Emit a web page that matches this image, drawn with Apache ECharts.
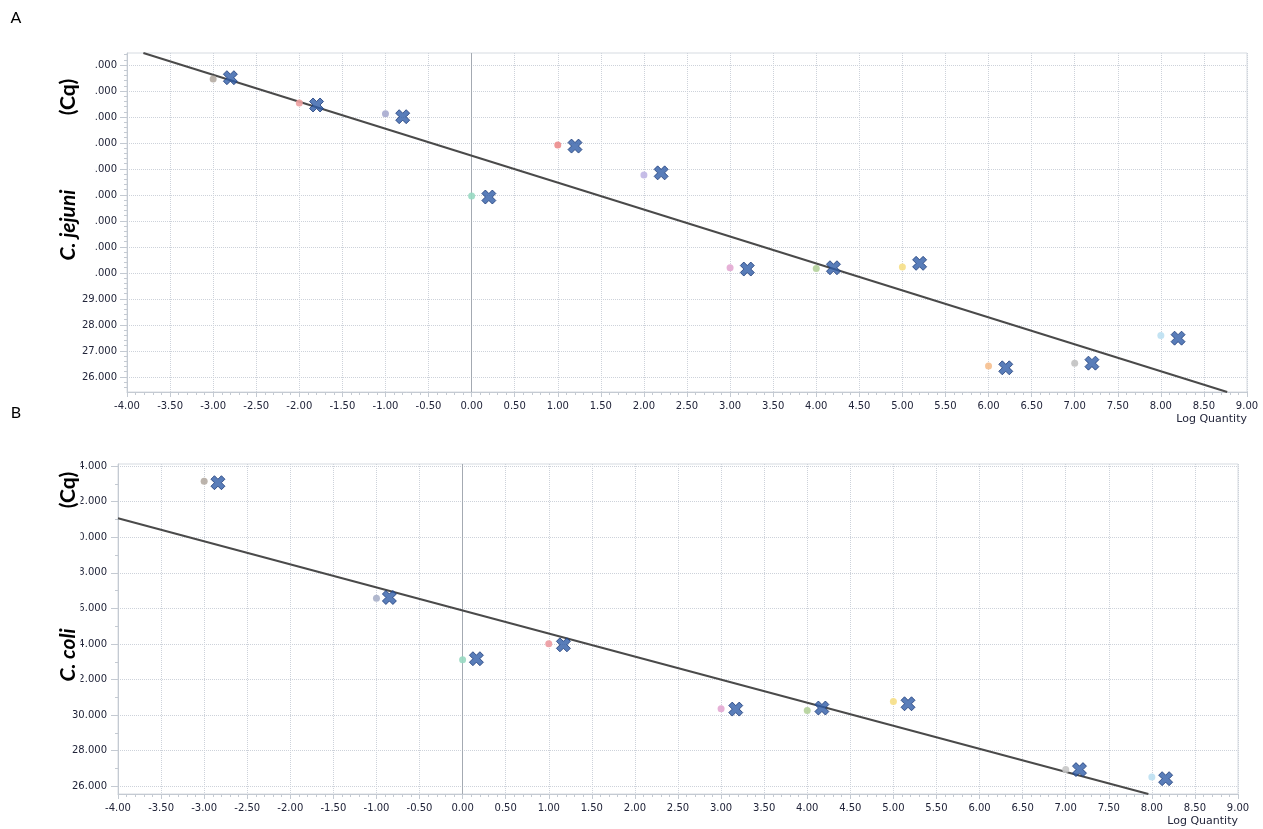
<!DOCTYPE html>
<html>
<head>
<meta charset="utf-8">
<script src="https://cdn.jsdelivr.net/npm/echarts@6/dist/echarts.min.js"></script>
<style>
html,body{margin:0;padding:0;background:#fff;}
#chart{width:1263px;height:829px;}
</style>
</head>
<body>
<div id="chart"></div>
<script>
// ---------- data ----------
const xTicks = [-4, -3.5, -3, -2.5, -2, -1.5, -1, -0.5, 0, 0.5, 1, 1.5, 2, 2.5, 3, 3.5, 4, 4.5, 5, 5.5, 6, 6.5, 7, 7.5, 8, 8.5, 9];
const yTicksA = [26, 27, 28, 29, 30, 31, 32, 33, 34, 35, 36, 37, 38];
const yTicksB = [26, 28, 30, 32, 34, 36, 38, 40, 42, 44];

// Panel A: C. jejuni
const logQtyA = [-3, -2, -1, 0, 1, 2, 3, 4, 5, 6, 7, 8];
const cqDotsA = [37.46, 36.54, 36.12, 32.96, 34.92, 33.77, 30.20, 30.17, 30.23, 26.42, 26.53, 27.59];
const markerQtyA = [-2.8, -1.8, -0.8, 0.2, 1.2, 2.2, 3.2, 4.2, 5.2, 6.2, 7.2, 8.2];
const cqMarkersA = [37.51, 36.46, 36.01, 32.92, 34.88, 33.85, 30.15, 30.20, 30.37, 26.35, 26.53, 27.49];
const fitQtyA = [-3.81, 8.77];
const fitCqA = [38.46, 25.42];

// Panel B: C. coli
const logQtyB = [-3, -1, 0, 1, 3, 4, 5, 7, 8];
const cqDotsB = [43.14, 36.57, 33.11, 34.01, 30.36, 30.26, 30.77, 26.94, 26.53];
const markerQtyB = [-2.84, -0.85, 0.16, 1.17, 3.17, 4.17, 5.17, 7.16, 8.16];
const cqMarkersB = [43.06, 36.61, 33.17, 33.95, 30.34, 30.40, 30.64, 26.94, 26.43];
const fitQtyB = [-4.0, 7.96];
const fitCqB = [41.06, 25.57];

// ---------- styles ----------
const dotColorsA = ['#b5aca3', '#eda0a0', '#a7abcf', '#98d9c2', '#ec8c8c', '#c0b6e4', '#e3a9d3', '#b4d29a', '#f6df86', '#f6bf8e', '#c2c2c2', '#bde0f2'];
const dotColorsB = ['#b5aca3', '#a9b0c9', '#98d9c2', '#ec9aa0', '#e3a9d3', '#b4d29a', '#f6df86', '#c8c8c8', '#bde0f2'];
const labelColor = '#22253a';
const gridDot = '#cdd2da';
const axisCol = '#c4cad2';
const xPath = 'path://M0,4 L4,0 L8,4 L12,0 L16,4 L12,8 L16,12 L12,16 L8,12 L4,16 L0,12 L4,8 Z';

function range(a, b, step) {
  const out = [];
  for (let v = a; v <= b + 1e-9; v += step) out.push(Math.round(v * 1000) / 1000);
  return out;
}
const xMinor = range(-4, 9, 0.1);
const yMinorA = range(25.6, 38.4, 0.2);
const yMinorB = range(27, 43, 2);

function zip(xs, ys) { return xs.map((x, i) => [x, ys[i]]); }

const grids = [
  { left: 127, top: 53, right: 16, height: 339 },
  { left: 118, top: 464, right: 25, height: 330 }
];
const yRanges = [[25.42, 38.46], [25.57, 44.11]];
const yTicks = [yTicksA, yTicksB];
const yMinors = [yMinorA, yMinorB];
const labelMargins = [10, 11];

const xAxes = [], yAxes = [];
grids.forEach((g, i) => {
  xAxes.push({
    type: 'value', gridIndex: i, min: -4, max: 9, position: 'bottom',
    name: 'Log Quantity', nameLocation: 'end', nameGap: 0,
    nameTextStyle: { fontFamily: 'DejaVu Sans', fontSize: 11, color: labelColor, align: 'right', verticalAlign: 'top', padding: [22, 0, 0, 0] },
    axisLine: { show: true, onZero: false, lineStyle: { color: axisCol } },
    axisTick: { show: true, customValues: xTicks, length: 5, lineStyle: { color: axisCol } },
    axisLabel: { customValues: xTicks, formatter: v => v.toFixed(2), fontFamily: 'DejaVu Sans', fontSize: 10, color: labelColor, margin: 9 },
    splitLine: { show: true, lineStyle: { color: gridDot, type: [1, 1], width: 1 } }
  });
  xAxes.push({
    type: 'value', gridIndex: i, min: -4, max: 9, position: 'bottom',
    axisLine: { show: false, onZero: false },
    axisTick: { show: true, customValues: xMinor, length: 3, lineStyle: { color: axisCol } },
    axisLabel: { show: false },
    splitLine: { show: false }
  });
  yAxes.push({
    type: 'value', gridIndex: i, min: yRanges[i][0], max: yRanges[i][1], position: 'left',
    axisLine: { show: true, onZero: false, lineStyle: { color: axisCol } },
    axisTick: { show: true, customValues: yTicks[i], length: 7, lineStyle: { color: axisCol } },
    axisLabel: { customValues: yTicks[i], formatter: v => v.toFixed(3), fontFamily: 'DejaVu Sans', fontSize: 10, color: labelColor, margin: labelMargins[i] },
    splitLine: { show: true, lineStyle: { color: gridDot, type: [1, 1], width: 1 } }
  });
  yAxes.push({
    type: 'value', gridIndex: i, min: yRanges[i][0], max: yRanges[i][1], position: 'left',
    axisLine: { show: false, onZero: false },
    axisTick: { show: true, customValues: yMinors[i], length: 3, lineStyle: { color: axisCol } },
    axisLabel: { show: false },
    splitLine: { show: false }
  });
});

function panelSeries(i, qty, dots, mQty, markers, fQty, fCq, colors) {
  const xi = i * 2, yi = i * 2;
  return [
    {
      type: 'line', xAxisIndex: xi, yAxisIndex: yi, data: zip(fQty, fCq),
      showSymbol: false, symbol: 'none', lineStyle: { color: '#4a4a4a', width: 2 }, z: 3,
      markLine: {
        silent: true, symbol: 'none', label: { show: false },
        lineStyle: { color: '#a4aab2', type: 'solid', width: 1 },
        data: [{ xAxis: 0 }], z: 1
      }
    },
    {
      type: 'scatter', xAxisIndex: xi, yAxisIndex: yi, data: zip(qty, dots),
      symbol: 'circle', symbolSize: 7, z: 4,
      itemStyle: { color: p => colors[p.dataIndex], opacity: 0.9 }
    },
    {
      type: 'scatter', xAxisIndex: xi, yAxisIndex: yi, data: zip(mQty, markers),
      symbol: xPath, symbolSize: 14, z: 5,
      itemStyle: { color: '#2f5ca8', borderColor: '#1d3b78', borderWidth: 1 }
    }
  ];
}

const titleFont = 'Lato, "Open Sans", sans-serif';
const option = {
  backgroundColor: '#ffffff',
  animation: false,
  grid: grids.map(g => Object.assign({ show: true, borderColor: '#d6dbe1', borderWidth: 1, backgroundColor: 'transparent' }, g)),
  xAxis: xAxes,
  yAxis: yAxes,
  series: [].concat(
    panelSeries(0, logQtyA, cqDotsA, markerQtyA, cqMarkersA, fitQtyA, fitCqA, dotColorsA),
    panelSeries(1, logQtyB, cqDotsB, markerQtyB, cqMarkersB, fitQtyB, fitCqB, dotColorsB)
  ),
  graphic: [
    { type: 'rect', shape: { x: 0, y: 40, width: 94, height: 247 }, style: { fill: '#ffffff' }, z: 100 },
    { type: 'rect', shape: { x: 0, y: 448, width: 80.5, height: 250 }, style: { fill: '#ffffff' }, z: 100 },
    { type: 'text', x: 16, y: 18, z: 101, style: { text: 'A', fontFamily: titleFont, fontSize: 16, fill: '#000', textAlign: 'center', textVerticalAlign: 'middle' } },
    { type: 'text', x: 16, y: 413, z: 101, style: { text: 'B', fontFamily: titleFont, fontSize: 16, fill: '#000', textAlign: 'center', textVerticalAlign: 'middle' } },
    { type: 'text', x: 68, y: 97, rotation: Math.PI / 2, z: 101, style: { text: '(Cq)', fontFamily: titleFont, fontWeight: 'bold', fontSize: 21, fill: '#000', textAlign: 'center', textVerticalAlign: 'middle' } },
    { type: 'text', x: 68, y: 225, rotation: Math.PI / 2, z: 101, style: { text: 'C. jejuni', fontFamily: titleFont, fontWeight: 'bold', fontStyle: 'italic', fontSize: 21, fill: '#000', textAlign: 'center', textVerticalAlign: 'middle' } },
    { type: 'text', x: 68, y: 490, rotation: Math.PI / 2, z: 101, style: { text: '(Cq)', fontFamily: titleFont, fontWeight: 'bold', fontSize: 21, fill: '#000', textAlign: 'center', textVerticalAlign: 'middle' } },
    { type: 'text', x: 68, y: 655, rotation: Math.PI / 2, z: 101, style: { text: 'C. coli', fontFamily: titleFont, fontWeight: 'bold', fontStyle: 'italic', fontSize: 21, fill: '#000', textAlign: 'center', textVerticalAlign: 'middle' } }
  ]
};

const chart = echarts.init(document.getElementById('chart'), null, { renderer: 'canvas' });
chart.setOption(option);
</script>
</body>
</html>
